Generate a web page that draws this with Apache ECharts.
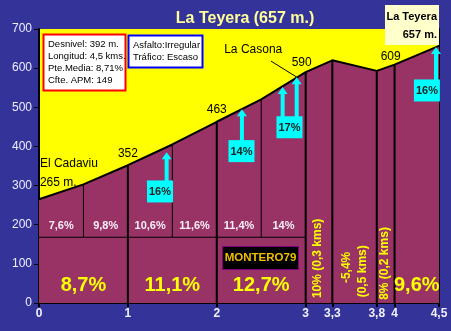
<!DOCTYPE html>
<html><head><meta charset="utf-8">
<script src="https://cdn.jsdelivr.net/npm/echarts@6/dist/echarts.min.js"></script>
<style>html,body{margin:0;padding:0;background:#333399;}#c{width:451px;height:331px;}</style>
</head><body><div id="c"></div>
<script>
// ---- data ----
const kms = [0, 0.5, 1, 1.5, 2, 2.5, 3, 3.3, 3.8, 4, 4.5];
const elevations = [265, 303, 352, 405, 463, 520, 590, 620, 593, 609, 657];
const xTickValues = [0, 1, 2, 3, 3.3, 3.8, 4, 4.5];
const xTickLabels = ['0', '1', '2', '3', '3,3', '3,8', '4', '4,5'];
const halfKmGrades = ['7,6%', '9,8%', '10,6%', '11,6%', '11,4%', '14%'];
const kmGrades = ['8,7%', '11,1%', '12,7%'];
const lastKmGrade = '9,6%';
const shortSegmentTexts = ['10% (0,3 kms)', '-5,4%', '(0,5 kms)', '8% (0,2 kms)'];
const rampGrades = ['16%', '14%', '17%', '16%'];
const rampArrowKm = [1.436, 2.283, 2.741, 2.899, 4.466];
const rampArrowTop = [385, 495, 552, 577, 654];
const rampArrowGroup = [0, 1, 2, 2, 3];
const placeNames = ['El Cadaviu', '265 m.', '352', '463', 'La Casona', '590', '609'];
const infoLines = ['Desnivel: 392 m.', 'Longitud: 4,5 kms.', 'Pte.Media: 8,71%', 'Cfte. APM: 149'];
const roadLines = ['Asfalto:Irregular', 'Tráfico: Escaso'];
const summitLines = ['La Teyera', '657 m.'];
const titleText = 'La Teyera (657 m.)';
const signature = 'MONTERO79';

// ---- layout (positions in data units) ----
const FONT = "'Liberation Sans', Arial, sans-serif";
const dividerKms = [0.5, 1, 1.5, 2, 2.5, 3, 3.3, 3.8, 4];
const thinBase = 168;
const halfGradeY = 198;
const kmGradeY = 45;
const shortPos = [[3.14, 114], [3.46, 91], [3.645, 81], [3.89, 101]];
const rampBoxPos = [[1.361, 285], [2.278, 388], [2.818, 449], [4.364, 543]];
const rampBoxTop = [314, 416, 477, 571];
const placePos = [[0.01, 357, 'left'], [0.01, 308, 'left'], [1.0, 382, 'center'], [2.0, 495, 'center'],
                  [2.41, 648, 'center'], [2.955, 614, 'center'], [3.956, 630, 'center']];

function textSeries(items, z) {
  return {
    type: 'custom', z: z, silent: true,
    data: items.map(it => [it.x, it.y]),
    renderItem: function (params, api) {
      const it = items[params.dataIndex];
      const p = api.coord([api.value(0), api.value(1)]);
      return {
        type: 'text', x: p[0], y: p[1], rotation: it.rot || 0,
        style: { text: it.text, fill: it.color, font: it.font, align: it.align || 'center', verticalAlign: 'middle' }
      };
    }
  };
}

const labelItems = [];
halfKmGrades.forEach((t, i) => labelItems.push({
  x: (kms[i] + kms[i + 1]) / 2, y: halfGradeY, text: t, color: '#F8F0F8', font: 'bold 11px ' + FONT
}));
kmGrades.forEach((t, i) => labelItems.push({
  x: i + 0.5, y: kmGradeY, text: t, color: '#FFFF00', font: 'bold 20px ' + FONT
}));
labelItems.push({ x: 4.25, y: kmGradeY, text: lastKmGrade, color: '#FFFF00', font: 'bold 20px ' + FONT });
shortSegmentTexts.forEach((t, i) => labelItems.push({
  x: shortPos[i][0], y: shortPos[i][1], text: t, color: '#FFFF00', font: 'bold 12px ' + FONT, rot: Math.PI / 2
}));
placeNames.forEach((t, i) => labelItems.push({
  x: placePos[i][0], y: placePos[i][1], text: t, color: '#000000', font: '12px ' + FONT, align: placePos[i][2]
}));

const dividerData = dividerKms.map(k => {
  const i = kms.indexOf(k);
  const thin = (k === 0.5 || k === 1.5 || k === 2.5);
  return [k, thin ? thinBase : 0, elevations[i], thin ? 1 : 2];
});

const chart = echarts.init(document.getElementById('c'), null, { renderer: 'canvas' });
chart.setOption({
  backgroundColor: '#333399',
  animation: false,
  grid: { left: 39, right: 12, top: 29, bottom: 28, show: true, backgroundColor: '#FFFF00', borderWidth: 0 },
  xAxis: {
    type: 'value', min: 0, max: 4.5,
    axisLine: { lineStyle: { color: '#000', width: 2 } },
    axisTick: { show: true, length: 4, customValues: xTickValues, lineStyle: { color: '#000', width: 2 } },
    axisLabel: { customValues: xTickValues, color: '#F0F0FF', fontWeight: 'bold', fontSize: 12, fontFamily: FONT, margin: 5,
      formatter: v => { const i = xTickValues.findIndex(t => Math.abs(t - v) < 1e-6); return i >= 0 ? xTickLabels[i] : ''; } },
    splitLine: { show: false }
  },
  yAxis: [{
    type: 'value', min: 0, max: 700, interval: 100,
    axisLine: { show: true, lineStyle: { color: '#000', width: 2 } },
    axisTick: { show: true, length: 5, lineStyle: { color: '#000', width: 1 } },
    axisLabel: { color: '#EEEEFF', fontSize: 12, fontFamily: FONT, margin: 7 },
    splitLine: { show: false }
  }, {
    type: 'value', min: 0, max: 700, interval: 100, position: 'right',
    axisLine: { show: true, lineStyle: { color: '#000', width: 2 } },
    axisTick: { show: false }, axisLabel: { show: false }, splitLine: { show: false }
  }],
  graphic: [
    { type: 'text', x: 245, y: 19, z: 100, style: { text: titleText, fill: '#FFFF99', font: 'bold 16px ' + FONT, align: 'center', verticalAlign: 'middle' } },
    { type: 'rect', shape: { x: 43.5, y: 34.5, width: 82, height: 56 }, z: 100, style: { fill: '#FFFFFF', stroke: '#FF0000', lineWidth: 2 } },
    { type: 'text', x: 48, y: 39, z: 101, style: { text: infoLines.join('\n'), fill: '#000', font: '9.5px ' + FONT, lineHeight: 11.7 } },
    { type: 'rect', shape: { x: 128.5, y: 35.5, width: 74, height: 32 }, z: 100, style: { fill: '#FFFFFF', stroke: '#0000FF', lineWidth: 2 } },
    { type: 'text', x: 133, y: 40, z: 101, style: { text: roadLines.join('\n'), fill: '#000', font: '9.5px ' + FONT, lineHeight: 11.7 } },
    { type: 'rect', shape: { x: 385, y: 5, width: 54, height: 40 }, z: 100, style: { fill: '#FFFFCC' } },
    { type: 'text', x: 437, y: 8, z: 101, style: { text: summitLines.join('\n'), fill: '#000', font: 'bold 11px ' + FONT, align: 'right', lineHeight: 18 } },
    { type: 'rect', shape: { x: 222.5, y: 246.5, width: 76, height: 23 }, z: 100, style: { fill: '#000000', stroke: '#800080', lineWidth: 1 } },
    { type: 'text', x: 260.5, y: 258, z: 101, style: { text: signature, fill: '#F0C000', font: 'bold 11.5px ' + FONT, align: 'center', verticalAlign: 'middle' } }
  ],
  series: [
    {
      type: 'line', data: kms.map((k, i) => [k, elevations[i]]), symbol: 'none', z: 2,
      lineStyle: { color: '#000', width: 2 },
      areaStyle: { color: '#993366', opacity: 1 }
    },
    {
      type: 'custom', z: 3, silent: true, data: dividerData,
      renderItem: function (params, api) {
        const a = api.coord([api.value(0), api.value(1)]);
        const b = api.coord([api.value(0), api.value(2)]);
        return { type: 'line', shape: { x1: a[0], y1: a[1], x2: b[0], y2: b[1] }, style: { stroke: '#000', lineWidth: api.value(3) } };
      }
    },
    {
      type: 'custom', z: 3, silent: true, data: [[0, thinBase, 3]],
      renderItem: function (params, api) {
        const a = api.coord([api.value(0), api.value(1)]);
        const b = api.coord([api.value(2), api.value(1)]);
        return { type: 'line', shape: { x1: a[0], y1: a[1], x2: b[0], y2: b[1] }, style: { stroke: '#000', lineWidth: 1 } };
      }
    },
    textSeries(labelItems, 5),
    {
      type: 'custom', z: 4, silent: true, data: [[2.61, 618, 2.90, 577]],
      renderItem: function (params, api) {
        const a = api.coord([api.value(0), api.value(1)]);
        const b = api.coord([api.value(2), api.value(3)]);
        return { type: 'line', shape: { x1: a[0], y1: a[1], x2: b[0], y2: b[1] }, style: { stroke: '#000', lineWidth: 1 } };
      }
    },
    {
      type: 'custom', z: 6, silent: true,
      data: rampArrowKm.map((k, i) => [k, rampArrowTop[i], rampBoxTop[rampArrowGroup[i]]]),
      renderItem: function (params, api) {
        const t = api.coord([api.value(0), api.value(1)]);
        const b = api.coord([api.value(0), api.value(2)]);
        return { type: 'group', children: [
          { type: 'rect', shape: { x: t[0] - 2, y: t[1] + 6, width: 4, height: b[1] - t[1] - 5 }, style: { fill: '#00FFFF' } },
          { type: 'polygon', shape: { points: [[t[0], t[1]], [t[0] - 5, t[1] + 7], [t[0] + 5, t[1] + 7]] }, style: { fill: '#00FFFF' } }
        ] };
      }
    },
    {
      type: 'custom', z: 7, silent: true,
      data: rampBoxPos.map(p => [p[0], p[1]]),
      renderItem: function (params, api) {
        const c = api.coord([api.value(0), api.value(1)]);
        return { type: 'group', children: [
          { type: 'rect', shape: { x: c[0] - 13, y: c[1] - 11, width: 26, height: 22 }, style: { fill: '#00FFFF' } },
          { type: 'text', x: c[0], y: c[1] + 1, style: { text: rampGrades[params.dataIndex], fill: '#222', font: 'bold 11px ' + FONT, align: 'center', verticalAlign: 'middle' } }
        ] };
      }
    }
  ]
});
</script></body></html>
